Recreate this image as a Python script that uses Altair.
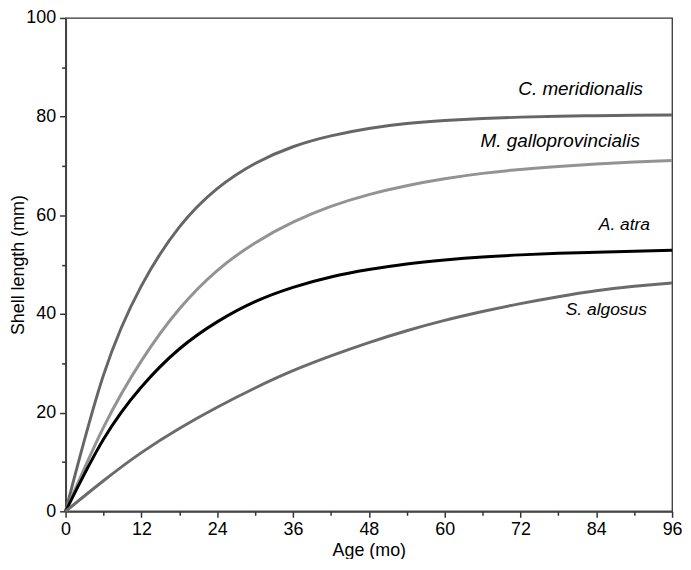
import altair as alt
import pandas as pd

# Age (months)
ages = [0, 6, 12, 18, 24, 30, 36, 42, 48, 54, 60, 66, 72, 78, 84, 90, 96]

# Shell length (mm)
c_meridionalis = [0, 27.6, 45.7, 57.6, 65.4, 70.5, 73.9, 76.1, 77.6, 78.6, 79.2, 79.6, 79.9, 80.1, 80.2, 80.3, 80.35]
m_galloprovincialis = [0, 17.0, 30.5, 41.0, 48.8, 54.4, 58.6, 61.8, 64.2, 66.0, 67.4, 68.5, 69.3, 69.9, 70.4, 70.8, 71.1]
a_atra = [0, 14.6, 25.2, 32.9, 38.4, 42.5, 45.4, 47.5, 49.0, 50.15, 50.95, 51.55, 51.98, 52.3, 52.5, 52.7, 52.9]
s_algosus = [0, 6.2, 11.9, 16.8, 21.1, 25.0, 28.5, 31.5, 34.2, 36.6, 38.7, 40.5, 42.1, 43.5, 44.7, 45.6, 46.3]

species = ["C. meridionalis", "M. galloprovincialis", "A. atra", "S. algosus"]
series = [c_meridionalis, m_galloprovincialis, a_atra, s_algosus]
colors = ["#666666", "#939393", "#000000", "#6b6b6b"]

# Labels (data coordinates)
label_text = ["C. meridionalis", "M. galloprovincialis", "A. atra", "S. algosus"]
label_x = [91.4, 90.9, 92.5, 92.0]
label_y = [85.5, 75.1, 58.1, 40.7]
label_size = [19, 19, 17.5, 17.5]

x_major = [0, 12, 24, 36, 48, 60, 72, 84, 96]
x_minor = [6, 18, 30, 42, 54, 66, 78, 90]
y_major = [0, 20, 40, 60, 80, 100]
y_minor = [10, 30, 50, 70, 90]

rows = []
for sp, vals in zip(species, series):
    for a, v in zip(ages, vals):
        rows.append({"species": sp, "age": a, "length": v})
df = pd.DataFrame(rows)

lab = pd.DataFrame({"text": label_text, "x": label_x, "y": label_y, "size": label_size})

FONT = "Liberation Sans"
xs = alt.Scale(domain=[0, 96], nice=False, zero=False)
ys = alt.Scale(domain=[0, 100], nice=False)

lines = alt.Chart(df).mark_line(interpolate="natural", strokeWidth=3).encode(
    x=alt.X("age:Q", scale=xs, axis=alt.Axis(
        values=x_major, title="Age (mo)", tickSize=6, labelPadding=3,
        titlePadding=4, labelFlush=False, grid=False)),
    y=alt.Y("length:Q", scale=ys, axis=alt.Axis(
        values=y_major, title="Shell length (mm)", tickSize=6, labelPadding=4,
        titlePadding=-2, grid=False)),
    color=alt.Color("species:N", scale=alt.Scale(domain=species, range=colors), legend=None),
    detail="species:N",
)

minor = alt.Chart(df).mark_point(opacity=0).encode(
    x=alt.X("age:Q", scale=xs, axis=alt.Axis(
        values=x_minor, labels=False, title=None, domain=False, grid=False,
        tickSize=4, orient="bottom")),
    y=alt.Y("length:Q", scale=ys, axis=alt.Axis(
        values=y_minor, labels=False, title=None, domain=False, grid=False,
        tickSize=4, orient="left")),
)

texts = alt.Chart(lab).mark_text(
    align="right", baseline="middle", fontStyle="italic", font=FONT, color="#000000"
).encode(
    x=alt.X("x:Q", scale=xs, axis=None),
    y=alt.Y("y:Q", scale=ys, axis=None),
    text="text:N",
    size=alt.Size("size:Q", scale=None, legend=None),
)

chart = alt.layer(lines, minor, texts).resolve_axis(
    x="independent", y="independent"
).properties(
    width=611, height=497,
    autosize=alt.AutoSizeParams(type="none"),
    padding={"left": 58, "top": 8, "right": 11, "bottom": 46},
).configure_view(
    stroke="#333333", strokeWidth=1.3
).configure_axis(
    domainColor="#444444", domainWidth=2, tickColor="#333333", tickWidth=1.5,
    labelFont=FONT, titleFont=FONT, labelFontSize=18, titleFontSize=18,
    labelColor="#000000", titleColor="#000000", titleFontWeight="normal",
)

chart.save("out.html", embed_options={"renderer": "svg", "actions": False})
